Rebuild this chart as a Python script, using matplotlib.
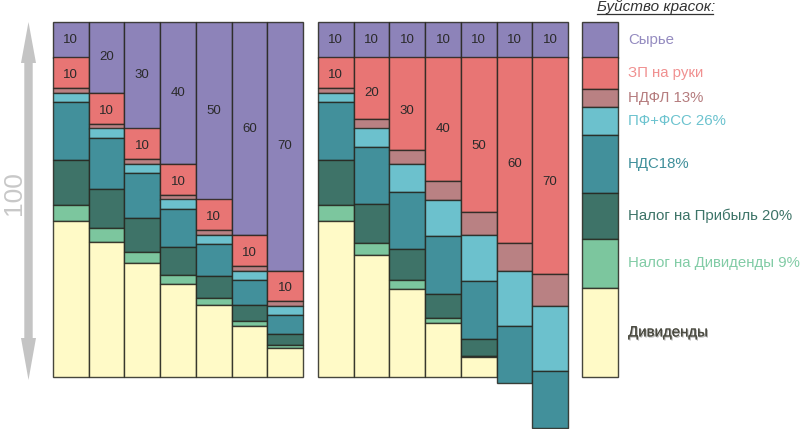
import matplotlib
matplotlib.use('Agg')
import matplotlib.pyplot as plt
from matplotlib.patches import Polygon
import matplotlib.patheffects as pe

plt.rcParams['font.family'] = ['Liberation Sans', 'DejaVu Sans']

# left panel: raw material grows, salary fixed
raw_left = [10, 20, 30, 40, 50, 60, 70]
zp_left = [10, 10, 10, 10, 10, 10, 10]
net_left = [8.7, 8.7, 8.7, 8.7, 8.7, 8.7, 8.7]
ndfl_left = [1.3, 1.3, 1.3, 1.3, 1.3, 1.3, 1.3]
pf_left = [2.6, 2.6, 2.6, 2.6, 2.6, 2.6, 2.6]
vat_left = [16.2, 14.4, 12.6, 10.8, 9.0, 7.2, 5.4]
ptax_left = [12.76, 11.12, 9.48, 7.84, 6.2, 4.56, 2.92]
dtax_left = [4.36, 3.77, 3.18, 2.59, 2.0, 1.41, 0.82]
div_left = [44.08, 38.11, 32.14, 26.17, 20.2, 14.23, 8.26]

# right panel: raw fixed, salary grows
raw_right = [10, 10, 10, 10, 10, 10, 10]
zp_right = [10, 20, 30, 40, 50, 60, 70]
net_right = [8.7, 17.4, 26.1, 34.8, 43.5, 52.2, 60.9]
ndfl_right = [1.3, 2.6, 3.9, 5.2, 6.5, 7.8, 9.1]
pf_right = [2.6, 5.2, 7.8, 10.4, 13.0, 15.6, 18.2]
vat_right = [16.2, 16.2, 16.2, 16.2, 16.2, 16.2, 16.2]
ptax_right = [12.76, 10.76, 8.76, 6.76, 4.76, 0, 0]
dtax_right = [4.36, 3.41, 2.45, 1.50, 0.54, 0, 0]
div_right = [44.08, 34.43, 24.79, 15.14, 5.5, 0, 0]

names = ['Сырье', 'ЗП на руки', 'НДФЛ 13%', 'ПФ+ФСС 26%', 'НДС18%',
         'Налог на Прибыль 20%', 'Налог на Дивиденды 9%', 'Дивиденды']
legend_sizes = [10, 8.8, 5.2, 7.9, 16.2, 12.9, 13.9, 25.1]

colors = ['#8d83b9', '#e87574', '#b98183', '#6cc1cd', '#42909b',
          '#3e7368', '#7cc69e', '#fffac7']
text_colors = ['#948bc0', '#f09090', '#b57c7e', '#6cc3cf', '#3f8f9a',
               '#3d7468', '#82cca6', '#4a4a40']
edge = (0.15, 0.15, 0.12, 0.85)

W, H = 800, 429
fig = plt.figure(figsize=(W / 100, H / 100), dpi=100)


def px_axes(x0, x1, y0, y1):
    return fig.add_axes([x0 / W, 1 - y1 / H, (x1 - x0) / W, (y1 - y0) / H])


def draw_panel(ax, series, raw, zp):
    n = len(raw)
    for i in range(n):
        top = 100.0
        for k, vals in enumerate(series):
            h = vals[i]
            if h <= 0:
                continue
            ax.bar(i, h, bottom=top - h, width=1.0, color=colors[k],
                   edgecolor=edge, linewidth=1.0, clip_on=False)
            top -= h
        ax.text(i, 100 - raw[i] / 2, str(raw[i]), ha='center', va='center',
                fontsize=9.5, color='#2a2a2a')
        gross = series[1][i] + series[2][i]
        ax.text(i, 100 - raw[i] - gross / 2, str(zp[i]), ha='center',
                va='center', fontsize=9.5, color='#2a2a2a')
    ax.set_xlim(-0.5, n - 0.5)
    ax.set_ylim(0, 100)
    ax.axis('off')


axl = px_axes(53, 303, 22, 377)
draw_panel(axl, [raw_left, net_left, ndfl_left, pf_left, vat_left,
                 ptax_left, dtax_left, div_left], raw_left, zp_left)

axr = px_axes(318, 568, 22, 377)
draw_panel(axr, [raw_right, net_right, ndfl_right, pf_right, vat_right,
                 ptax_right, dtax_right, div_right], raw_right, zp_right)

# legend column
axg = px_axes(582, 618, 22, 377)
top = 100.0
for k, h in enumerate(legend_sizes):
    axg.bar(0, h, bottom=top - h, width=1.0, color=colors[k],
            edgecolor=edge, linewidth=1.0, clip_on=False)
    t = axg.text(0.78, top - h / 2, names[k], ha='left', va='center',
                 fontsize=10.8, color=text_colors[k])
    if k == len(names) - 1:
        t.set_path_effects([pe.withSimplePatchShadow(offset=(0.8, -0.8),
                                                     shadow_rgbFace='#aaaaaa',
                                                     alpha=0.9),
                            pe.Normal()])
    top -= h
axg.set_xlim(-0.5, 0.5)
axg.set_ylim(0, 100)
axg.axis('off')

# overlay in pixel coords for the decorations
ov = fig.add_axes([0, 0, 1, 1], zorder=-1)
ov.set_xlim(0, W)
ov.set_ylim(H, 0)
ov.axis('off')

cx = 28.5
arrow = [(cx, 22), (cx + 7.5, 63), (cx + 4.2, 63), (cx + 4.2, 338),
         (cx + 7.5, 338), (cx, 380), (cx - 7.5, 338), (cx - 4.2, 338),
         (cx - 4.2, 63), (cx - 7.5, 63)]
ov.add_patch(Polygon(arrow, closed=True, facecolor='#c4c4c4',
                     edgecolor='none'))
ov.text(14, 193, '100', rotation=90, ha='center', va='center',
        fontsize=19, color='#c8c8c8')

ov.text(597, 11, 'Буйство красок:', ha='left', va='baseline',
        fontsize=11, style='italic', color='#333333')
ov.plot([597, 713], [13.5, 13.5], color='#333333', lw=0.9)

fig.savefig('out.png', dpi=100)
